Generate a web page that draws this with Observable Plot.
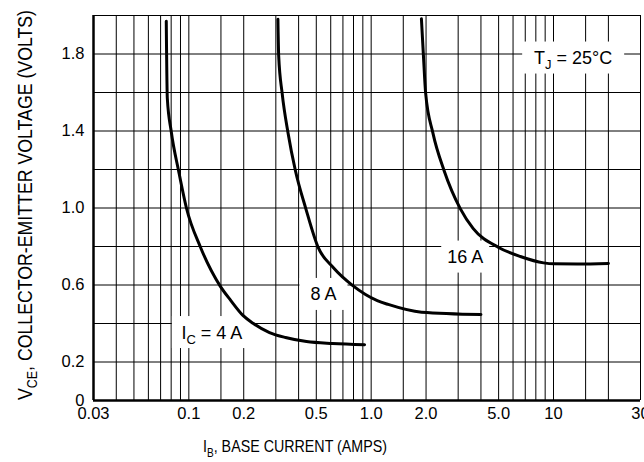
<!DOCTYPE html>
<html>
<head>
<meta charset="utf-8">
<script src="https://cdn.jsdelivr.net/npm/d3@7"></script>
<script src="https://cdn.jsdelivr.net/npm/@observablehq/plot@0.6"></script>
<style>
  html, body { margin: 0; padding: 0; background: #fff; }
  #chart svg { display: block; }
</style>
</head>
<body>
<div id="chart"></div>
<script>
// ---- axis ticks / grid ----
const xTickValues = [0.03, 0.1, 0.2, 0.5, 1, 2, 5, 10, 30];
const xTickLabels = ["0.03", "0.1", "0.2", "0.5", "1.0", "2.0", "5.0", "10", "30"];
const yTickValues = [0, 0.2, 0.6, 1.0, 1.4, 1.8];
const yTickLabels = ["0", "0.2", "0.6", "1.0", "1.4", "1.8"];
const xGrid = [0.04, 0.05, 0.06, 0.07, 0.08, 0.09, 0.1, 0.15, 0.2, 0.3, 0.4, 0.5, 0.6, 0.7, 0.8, 0.9, 1,
               1.5, 2, 3, 4, 5, 6, 7, 8, 9, 10, 15, 20, 30];
const yGrid = [0.2, 0.4, 0.6, 0.8, 1.0, 1.2, 1.4, 1.6, 1.8, 2.0];

// ---- series: IB (A) vs VCE (V), per collector current ----
const seriesNames = ["4 A", "8 A", "16 A"];
const ib4  = [0.0752, 0.0762, 0.080, 0.088, 0.097, 0.116, 0.148, 0.170, 0.198, 0.226, 0.277, 0.339, 0.442, 0.614, 0.92];
const vce4 = [1.97,   1.57,   1.40,  1.19,  1.00,  0.795, 0.597, 0.519, 0.442, 0.400, 0.353, 0.327, 0.306, 0.296, 0.290];
const ib8  = [0.308, 0.311, 0.325, 0.35, 0.384, 0.438, 0.512, 0.621, 0.793, 1.08,  1.24,  1.89,  4.0];
const vce8 = [1.98,  1.79,  1.595, 1.39, 1.195, 0.997, 0.795, 0.690, 0.597, 0.519, 0.499, 0.459, 0.447];
const ib16  = [1.886, 1.935, 1.99,  2.18, 2.51,  3.08,  3.63,  5.0,   6.58,  8.83,  10.0,  13.5,  20];
const vce16 = [1.983, 1.79,  1.595, 1.39, 1.195, 0.997, 0.893, 0.795, 0.748, 0.715, 0.710, 0.709, 0.712];

// ---- annotations (data coordinates) ----
const noteMain = ["I", "", "", "T"];
const noteSub  = ["C", "", "", "J"];
const noteRest = [" = 4 A", "8 A", "16 A", " = 25°C"];
const noteX = [0.1346, 0.551, 3.30, 12.9];
const noteY = [0.353, 0.551, 0.745, 1.779];

// styles
const noteBoxW = [80, 48, 48, 102];
const noteBoxH = 32;
const FONT = "'Liberation Sans', Arial, Helvetica, sans-serif";

const rows = [
  ...ib4.map((v, i) => ({ic: seriesNames[0], ib: v, vce: vce4[i]})),
  ...ib8.map((v, i) => ({ic: seriesNames[1], ib: v, vce: vce8[i]})),
  ...ib16.map((v, i) => ({ic: seriesNames[2], ib: v, vce: vce16[i]}))
];

const plot = Plot.plot({
  width: 644,
  height: 462,
  marginLeft: 93,
  marginRight: 4,
  marginTop: 15,
  marginBottom: 62,
  style: {fontFamily: FONT, fontSize: "16px", color: "#000", background: "#fff", overflow: "visible"},
  x: {type: "log", domain: [0.03, 30], axis: null},
  y: {domain: [0, 2], axis: null},
  marks: [
    Plot.ruleX(xGrid, {stroke: "#000", strokeWidth: 1}),
    Plot.ruleY(yGrid, {stroke: "#000", strokeWidth: 1}),
    Plot.ruleX([xTickValues[0]], {stroke: "#000", strokeWidth: 2.5}),
    Plot.ruleY([yTickValues[0]], {stroke: "#000", strokeWidth: 2.5}),
    Plot.line(rows, {x: "ib", y: "vce", z: "ic", stroke: "#000", strokeWidth: 3, curve: "monotone-x"}),
    Plot.text(xTickValues, {x: d => d, text: (d, i) => xTickLabels[i], frameAnchor: "bottom",
                            dy: 18, fill: "#000", fontSize: 16.5}),
    Plot.text(yTickValues, {y: d => d, text: (d, i) => yTickLabels[i], frameAnchor: "left",
                            dx: -9, textAnchor: "end", fill: "#000", fontSize: 16.5})
  ]
});

document.getElementById("chart").appendChild(plot);

// ---- annotations with subscripts, through the plot's scales ----
const svg = d3.select(plot);
const sx = plot.scale("x"), sy = plot.scale("y");
const notesG = svg.insert("g", 'g[aria-label="line"]').attr("aria-label", "notes");
noteRest.forEach((rest, i) => {
  const cx = sx.apply(noteX[i]), cy = sy.apply(noteY[i]);
  notesG.append("rect")
    .attr("x", cx - noteBoxW[i] / 2).attr("y", cy - noteBoxH / 2)
    .attr("width", noteBoxW[i]).attr("height", noteBoxH)
    .attr("fill", "#fff");
  const t = notesG.append("text")
    .attr("x", cx).attr("y", cy).attr("dy", "0.36em")
    .attr("text-anchor", "middle")
    .attr("font-family", FONT).attr("font-size", 18).attr("fill", "#000");
  if (noteMain[i]) {
    t.append("tspan").text(noteMain[i]);
    t.append("tspan").attr("font-size", 13).attr("dy", 5).text(noteSub[i]);
    t.append("tspan").attr("dy", -5).text(rest);
  } else {
    t.append("tspan").text(rest);
  }
});

// ---- axis titles ----
const xt = svg.append("text")
  .attr("x", 295).attr("y", 452)
  .attr("text-anchor", "middle")
  .attr("font-family", FONT).attr("font-size", 17).attr("fill", "#000")
  .attr("textLength", 184).attr("lengthAdjust", "spacingAndGlyphs");
xt.append("tspan").text("I");
xt.append("tspan").attr("font-size", 12).attr("dy", 5).text("B");
xt.append("tspan").attr("dy", -5).text(", BASE CURRENT (AMPS)");

const yt = svg.append("text")
  .attr("transform", "translate(32,205) rotate(-90)")
  .attr("text-anchor", "middle")
  .attr("font-family", FONT).attr("font-size", 20).attr("fill", "#000")
  .attr("textLength", 390).attr("lengthAdjust", "spacingAndGlyphs");
yt.append("tspan").text("V");
yt.append("tspan").attr("font-size", 14).attr("dy", 5).text("CE");
yt.append("tspan").attr("dy", -5).text(", COLLECTOR-EMITTER VOLTAGE (VOLTS)");
</script>
</body>
</html>
